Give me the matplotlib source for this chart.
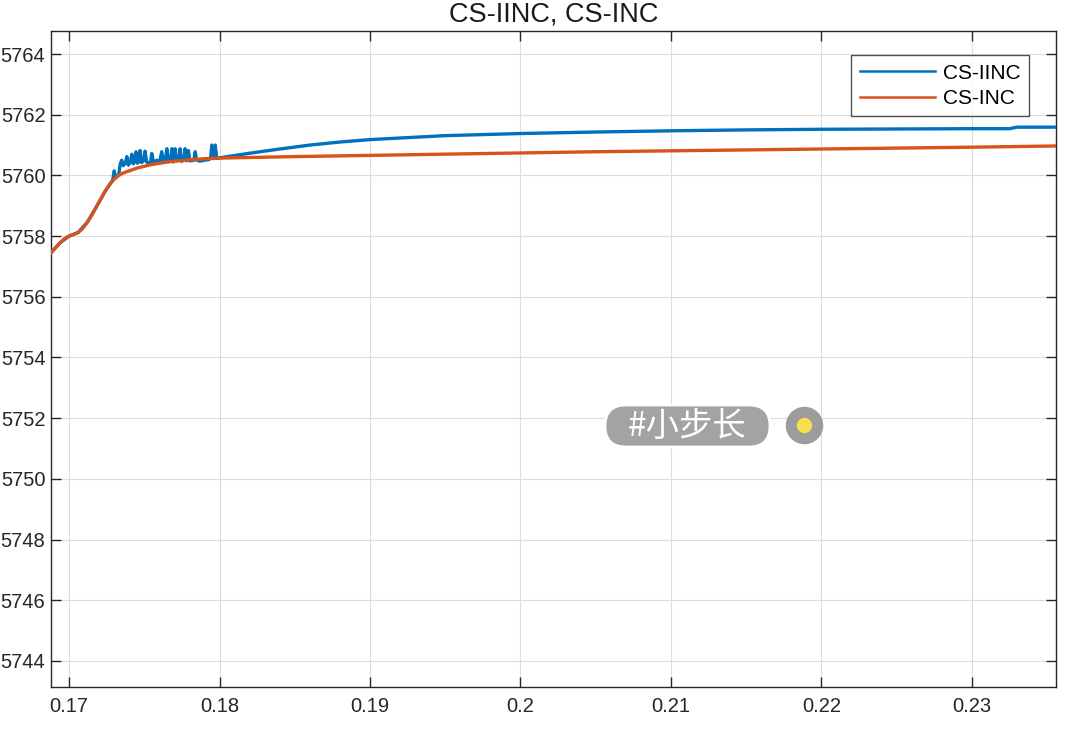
import numpy as np
import matplotlib
matplotlib.use('Agg')
import matplotlib.pyplot as plt
from matplotlib.lines import Line2D
from matplotlib.patches import FancyBboxPatch
from matplotlib.transforms import IdentityTransform

# curva CS-INC (laranja)
x_inc = [0.1688, 0.1691, 0.1694, 0.1697, 0.1700, 0.1703, 0.1706, 0.1709, 0.1712,
         0.1715, 0.1718, 0.1721, 0.1724, 0.1727, 0.1730, 0.1733, 0.1736, 0.1740,
         0.1745, 0.1750, 0.1755, 0.1760, 0.1765, 0.1770, 0.1775, 0.1780, 0.1785,
         0.1790, 0.1795, 0.1800, 0.1850, 0.1900, 0.1950, 0.2000, 0.2050, 0.2100,
         0.2150, 0.2200, 0.2250, 0.2300, 0.2356]
y_inc = [5757.45, 5757.62, 5757.78, 5757.92, 5758.00, 5758.05, 5758.12, 5758.25, 5758.45,
         5758.68, 5758.95, 5759.22, 5759.48, 5759.70, 5759.88, 5760.00, 5760.08, 5760.15,
         5760.24, 5760.30, 5760.36, 5760.40, 5760.44, 5760.47, 5760.49, 5760.52, 5760.53,
         5760.55, 5760.56, 5760.57, 5760.62, 5760.66, 5760.70, 5760.74, 5760.78, 5760.81,
         5760.84, 5760.87, 5760.90, 5760.93, 5760.97]

# curva CS-IINC (azul): segue a laranja no inicio, depois oscila e sobe
x_iinc = [0.1688, 0.1694, 0.1700, 0.1706, 0.1712, 0.1718, 0.1724, 0.1727, 0.1729,
          0.1730, 0.1731, 0.1733,
          0.17340, 0.17350, 0.17360, 0.17374, 0.17384, 0.17394, 0.17408, 0.17417, 0.17427,
          0.17438, 0.17445, 0.17455, 0.17465, 0.17472, 0.17482, 0.17497, 0.17505, 0.17515,
          0.17540, 0.17550, 0.17560, 0.17585, 0.17600, 0.17616, 0.17626, 0.17640, 0.17650,
          0.17660, 0.17675, 0.17683, 0.17693, 0.17698, 0.17705, 0.17715, 0.17730, 0.17738,
          0.17748, 0.17763, 0.17771, 0.17781, 0.17788, 0.17793, 0.17803, 0.17830, 0.17838,
          0.17848, 0.17870, 0.17900, 0.17930, 0.17940, 0.17949, 0.17960, 0.17971, 0.17982,
          0.18000, 0.18200, 0.18400, 0.18600, 0.18800, 0.19000, 0.19500, 0.20000, 0.20500,
          0.21000, 0.21500, 0.22000, 0.22500, 0.23000, 0.23250, 0.23300, 0.23560]
y_iinc = [5757.45, 5757.78, 5758.00, 5758.12, 5758.45, 5758.95, 5759.48, 5759.70, 5759.85,
          5760.15, 5759.92, 5760.02,
          5760.38, 5760.50, 5760.32, 5760.40, 5760.62, 5760.34, 5760.44, 5760.70, 5760.38,
          5760.46, 5760.78, 5760.40, 5760.48, 5760.82, 5760.42, 5760.50, 5760.80, 5760.44,
          5760.40, 5760.72, 5760.44, 5760.50, 5760.40, 5760.78, 5760.46, 5760.52, 5760.88,
          5760.45, 5760.50, 5760.88, 5760.44, 5760.50, 5760.88, 5760.48, 5760.52, 5760.88,
          5760.46, 5760.52, 5760.88, 5760.48, 5760.52, 5760.82, 5760.48, 5760.50, 5760.78,
          5760.50, 5760.47, 5760.50, 5760.52, 5760.56, 5761.00, 5760.55, 5761.00, 5760.56,
          5760.58, 5760.73, 5760.87, 5761.00, 5761.10, 5761.18, 5761.31, 5761.38, 5761.43,
          5761.47, 5761.50, 5761.52, 5761.53, 5761.54, 5761.54, 5761.59, 5761.59]

x_ticks = [0.17, 0.18, 0.19, 0.20, 0.21, 0.22, 0.23]
x_labels = ['0.17', '0.18', '0.19', '0.2', '0.21', '0.22', '0.23']
y_ticks = [5744, 5746, 5748, 5750, 5752, 5754, 5756, 5758, 5760, 5762, 5764]

plt.rcParams['font.family'] = ['Liberation Sans', 'DejaVu Sans']

fig = plt.figure(figsize=(10.79, 7.41), dpi=100)
ax = fig.add_axes([0.0473, 0.0729, 0.9314, 0.8853])

ax.plot(x_iinc, y_iinc, color='#0072BD', linewidth=2.4, label='CS-IINC', zorder=3)
ax.plot(x_inc, y_inc, color='#D95319', linewidth=2.4, label='CS-INC', zorder=4)

ax.set_xlim(0.1688, 0.2356)
ax.set_ylim(5743.14, 5764.76)
ax.set_xticks(x_ticks)
ax.set_xticklabels(x_labels)
ax.set_yticks(y_ticks)

# estilo parecido com o MATLAB
ax.grid(True, color='#dcdcdc', linewidth=0.8)
ax.set_axisbelow(True)
ax.tick_params(direction='in', length=7, width=1, top=True, right=True,
               labelsize=14.5, colors='#262626')
ax.tick_params(axis='y', pad=4)
ax.tick_params(axis='x', pad=7)
for lado in ax.spines.values():
    lado.set_color('#262626')
    lado.set_linewidth(1.0)

ax.set_title('CS-IINC, CS-INC', fontsize=19.5, color='#1a1a1a', pad=7)

leg = ax.legend(loc='upper right', bbox_to_anchor=(0.973, 0.963), fontsize=15,
                frameon=True, fancybox=False, edgecolor='#262626', handlelength=3.6,
                borderpad=0.4, labelspacing=0.3, handletextpad=0.4, borderaxespad=0)
leg.get_frame().set_linewidth(1.0)
for linha in leg.get_lines():
    linha.set_linewidth(1.8)

# rotulo sobreposto do video (em pixels)
fig.add_artist(FancyBboxPatch((605, 741 - 447), 165, 42,
                              boxstyle='round,pad=0,rounding_size=21',
                              transform=IdentityTransform(), facecolor='#a3a3a3',
                              edgecolor='white', linewidth=2, zorder=10))
fig.text(687 / 1079, 1 - 426 / 741, '#小步长', fontsize=24, color='white',
         family=['Noto Sans CJK SC', 'DejaVu Sans'], ha='center', va='center', zorder=11)
fig.add_artist(Line2D([804 / 1079], [1 - 425 / 741], transform=fig.transFigure,
                      marker='o', markersize=27, color='#9c9c9c', linestyle='none',
                      markeredgewidth=0, zorder=10))
fig.add_artist(Line2D([804 / 1079], [1 - 425 / 741], transform=fig.transFigure,
                      marker='o', markersize=11, color='#f7e04b', linestyle='none',
                      markeredgewidth=0, zorder=11))

plt.savefig('out.png', dpi=100)
